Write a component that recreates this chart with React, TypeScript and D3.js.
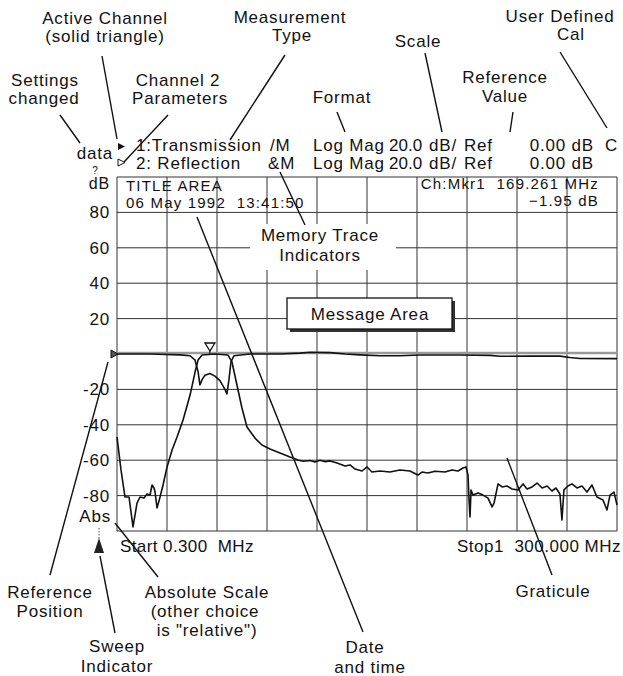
import React from 'react';
import * as d3 from 'd3';

// frequency sweep, MHz
const startMHz = 0.3;
const stopMHz = 300;

// channel 1 : transmission (bandpass filter response)
const transFreq = [0.3, 2.7, 5.1, 7.5, 9.9, 12.3, 14.1, 16.5, 18.3, 20.1, 21.3, 22.5, 23.1, 24.3, 26.1, 27.9,
  30.3, 33.3, 36.3, 39.9, 44.1, 47.1, 48.9, 51.3, 59.0, 66.8, 69.2, 72.2, 75.2, 78.2, 83.0, 87.2, 92.0, 98.0,
  104.0, 108.8, 112.0, 116.0, 119.0, 122.0, 125.0, 128.0, 132.2, 137.0, 140.0, 143.0, 147.2, 150.2, 153.1,
  157.9, 163.9, 169.9, 175.9, 180.7, 183.1, 186.7, 190.9, 196.9, 201.1, 204.7, 207.7, 209.5, 210.7, 211.3,
  211.9, 212.5, 213.7, 216.7, 219.7, 222.7, 225.1, 226.3, 228.7, 231.1, 234.1, 237.1, 240.7, 243.7, 246.1,
  249.1, 252.1, 255.1, 258.1, 261.0, 263.4, 265.8, 267.0, 268.2, 270.6, 273.0, 276.0, 279.0, 282.0, 285.0,
  288.0, 291.6, 294.0, 295.8, 298.2, 300.0];
const transDb = [-46.9, -65.5, -80.8, -80.8, -97.7, -84.2, -80.8, -81.4, -79.1, -79.7, -74.0, -75.7, -78.0, -87.0, -80.8, -74.0,
  -63.8, -54.2, -46.9, -37.3, -23.2, -10.2, -3.4, -0.6, 0, -0.6, -4.5, -17.5, -30.5, -41.2, -47.5, -51.4, -53.7, -55.9,
  -58.2, -59.9, -60.6, -60.2, -61.0, -60.0, -60.8, -60.4, -61.6, -63.3, -62.7, -65.0, -66.1, -63.8, -66.7,
  -66.1, -66.7, -65.5, -66.1, -68.4, -66.7, -67.2, -66.2, -66.7, -65.5, -66.1, -64.4, -63.8, -68.4, -82.5,
  -92.1, -76.8, -79.7, -78.5, -79.7, -81.4, -86.4, -84.2, -73.4, -75.1, -74.6, -76.3, -76.8, -73.4, -76.3,
  -75.1, -72.9, -75.7, -74.6, -77.4, -75.7, -79.1, -93.8, -76.8, -74.6, -73.4, -75.7, -74.6, -78.0, -74.0,
  -80.8, -82.5, -88.1, -79.7, -78.0, -85.3];

// channel 2 : reflection
const reflFreq = [0.3, 20.1, 38.1, 44.1, 47.1, 48.9, 50.0, 51.3, 53.0, 56.0, 59.0, 62.0, 65.0, 66.2, 67.4, 68.6,
  70.4, 80.0, 98.0, 110.0, 116.0, 128.0, 137.0, 146.0, 157.9, 169.9, 181.9, 205.9, 223.9, 229.9, 247.9, 265.8,
  271.8, 277.8, 300.0];
const reflDb = [0, 0, -0.5, -1, -3.5, -10, -17.5, -14.5, -12, -11, -12.5, -15, -20, -22.5, -14.5, -4.5,
  -1, 0, 0, 0.5, 1, 0.8, 0, -0.5, -1, -1, -0.6, -0.6, -0.8, -1.3, -1.2, -1.2, -2, -2.5, -2.6];

const markerMHz = 56;
const markerDb = 0;

const yTicks = [80, 60, 40, 20, -20, -40, -60, -80];
const yTickLabels = ['80', '60', '40', '20', '-20', '-40', '-60', '-80'];

const FONT = '"Liberation Sans", Arial, Helvetica, sans-serif';

const App: React.FC = () => {
  const width = 623, height = 676;
  const x = d3.scaleLinear().domain([startMHz, stopMHz]).range([117, 617]);
  const y = d3.scaleLinear().domain([-100, 100]).range([531, 177]);

  const line = d3.line<[number, number]>().x(d => x(d[0])).y(d => y(d[1]));
  const transPts = transFreq.map((f, i) => [f, transDb[i]] as [number, number]);
  const reflPts = reflFreq.map((f, i) => [f, reflDb[i]] as [number, number]);

  const xGrid = d3.range(11).map(i => startMHz + (i * (stopMHz - startMHz)) / 10);
  const yGrid = d3.range(-100, 101, 20);

  const txt = (s: string, px: number, py: number, anchor: string = 'start', extra: any = {}) => (
    <text x={px} y={py} textAnchor={anchor} fontFamily={FONT} fontSize={17} letterSpacing={0.8}
      fill="#111" style={{ whiteSpace: 'pre' }} {...extra}>{s}</text>
  );
  const small = { fontSize: 15, letterSpacing: 1.2 };

  // leader lines of the annotations [x1, y1, x2, y2]
  const leaders: number[][] = [
    [102, 56, 117, 139],   // active channel
    [60, 115, 80, 143],    // settings changed
    [168, 115, 124, 162],  // channel 2 parameters
    [285, 55, 230, 140],   // measurement type
    [337, 112, 345, 132],  // format
    [425, 53, 442, 132],   // scale
    [513, 112, 510, 132],  // reference value
    [560, 52, 607, 128],   // user defined cal
    [280, 172, 305, 225],  // memory trace indicators
    [197, 217, 363, 632],  // date and time
    [507, 458, 552, 575],  // graticule
    [50, 575, 108, y(0) + 8], // reference position
    [115, 523, 158, 577],  // absolute scale
    [100, 556, 115, 633],  // sweep indicator
  ];

  const mx = x(markerMHz), my = y(markerDb);

  return (
    <div style={{ position: 'absolute', left: 0, top: 0 }}>
      <svg width={width} height={height} style={{ display: 'block', background: '#fff' }}>
        {/* graticule */}
        <g stroke="#333" strokeWidth={1}>
          {xGrid.map((f, i) => (
            <line key={'vx' + i} x1={x(f)} x2={x(f)} y1={y(100)} y2={y(-100)} />
          ))}
          {yGrid.map(v => (
            <line key={'hy' + v} x1={x(startMHz)} x2={x(stopMHz)} y1={y(v)} y2={y(v)}
              stroke={v === 0 ? '#999' : '#333'} strokeWidth={v === 0 ? 2.5 : 1}
              transform={v === 0 ? 'translate(0,-1)' : undefined} />
          ))}
        </g>

        {/* label backgrounds that hide the graticule */}
        <rect x={250} y={224} width={146} height={46} fill="#fff" />
        <rect x={290} y={301} width={165} height={31} fill="#333" />
        <rect x={287} y={298} width={165} height={31} fill="#fff" stroke="#111" strokeWidth={1.3} />

        {/* traces */}
        <path d={line(reflPts) || ''} fill="none" stroke="#111" strokeWidth={1.6} strokeLinejoin="round" />
        <path d={line(transPts) || ''} fill="none" stroke="#111" strokeWidth={1.6} strokeLinejoin="round" />

        {/* marker */}
        <path d={`M${mx - 5},${my - 11} L${mx + 5},${my - 11} L${mx},${my - 3} Z`} fill="#fff" stroke="#111" strokeWidth={1.3} />
        <line x1={mx} x2={mx} y1={my - 3} y2={my} stroke="#111" />

        {/* reference position marker */}
        <path d={`M${x(startMHz) - 6},${y(0) - 4} L${x(startMHz) + 1},${y(0)} L${x(startMHz) - 6},${y(0) + 4} Z`} fill="#555" stroke="#111" />

        {/* y tick labels */}
        {yTicks.map((v, i) => txt(yTickLabels[i], 110, y(v) + 6, 'end', { key: 'yt' + v }))}
        {txt('dB', 110, 189, 'end', { fontSize: 16 })}
        {txt('Abs', 111, 522, 'end')}

        {/* header lines */}
        {txt('data', 113, 159, 'end')}
        <text x={95} y={174} textAnchor="middle" fontFamily={FONT} fontSize={10} fill="#111">?</text>
        <path d="M118,143 L125,146.5 L118,150 Z" fill="#111" />
        <path d="M118,159 L125,162.5 L118,166 Z" fill="#fff" stroke="#111" strokeWidth={1} />
        {txt('1:Transmission', 136, 151)}
        {txt('2: Reflection', 136, 169)}
        {txt('/M', 270, 151)}
        {txt('&M', 268, 169)}
        {txt('Log Mag', 313, 151)}
        {txt('Log Mag', 313, 169)}
        {txt('20.0', 389, 151, 'start', { letterSpacing: 0 })}
        {txt('20.0', 389, 169, 'start', { letterSpacing: 0 })}
        {txt('dB/', 429, 151)}
        {txt('dB/', 429, 169)}
        {txt('Ref', 464, 151)}
        {txt('Ref', 464, 169)}
        {txt('0.00 dB', 594, 151, 'end')}
        {txt('0.00 dB', 594, 169, 'end')}
        {txt('C', 605, 151)}

        {/* title area */}
        {txt('TITLE AREA', 126, 191, 'start', small)}
        {txt('06 May 1992  13:41:50', 126, 208, 'start', small)}
        {txt('Ch:Mkr1  169.261 MHz', 599, 189, 'end', small)}
        {txt('\u22121.95 dB', 599, 206, 'end', small)}

        {/* in-plot labels */}
        {txt('Memory Trace', 320, 241, 'middle')}
        {txt('Indicators', 320, 261, 'middle')}
        {txt('Message Area', 370, 320, 'middle')}

        {/* sweep range */}
        {txt('Start 0.300  MHz', 120, 552, 'start', { letterSpacing: 0.4 })}
        {txt('Stop1  300.000 MHz', 621, 552, 'end', { letterSpacing: 0.5 })}

        {/* sweep indicator */}
        <line x1={99} x2={99} y1={528} y2={540} stroke="#555" strokeDasharray="1.5,1.5" />
        <path d="M99,538 L94,553 L104,553 Z" fill="#222" />

        {/* leader lines */}
        <g stroke="#111" strokeWidth={1.4}>
          {leaders.map((l, i) => <line key={'ld' + i} x1={l[0]} y1={l[1]} x2={l[2]} y2={l[3]} />)}
        </g>

        {/* annotations */}
        {txt('Active Channel', 105, 24, 'middle')}
        {txt('(solid triangle)', 105, 42, 'middle')}
        {txt('Measurement', 290, 23, 'middle')}
        {txt('Type', 292, 41, 'middle')}
        {txt('User Defined', 560, 22, 'middle')}
        {txt('Cal', 571, 40, 'middle')}
        {txt('Scale', 418, 47, 'middle')}
        {txt('Settings', 45, 86, 'middle')}
        {txt('changed', 44, 104, 'middle')}
        {txt('Channel 2', 178, 86, 'middle')}
        {txt('Parameters', 180, 104, 'middle')}
        {txt('Format', 342, 103, 'middle')}
        {txt('Reference', 505, 83, 'middle')}
        {txt('Value', 505, 102, 'middle')}
        {txt('Reference', 50, 598, 'middle')}
        {txt('Position', 50, 617, 'middle')}
        {txt('Absolute Scale', 207, 598, 'middle')}
        {txt('(other choice', 205, 617, 'middle')}
        {txt('is "relative")', 207, 636, 'middle')}
        {txt('Sweep', 117, 652, 'middle')}
        {txt('Indicator', 117, 672, 'middle')}
        {txt('Date', 365, 653, 'middle')}
        {txt('and time', 370, 673, 'middle')}
        {txt('Graticule', 553, 597, 'middle')}
      </svg>
    </div>
  );
};

export default App;
